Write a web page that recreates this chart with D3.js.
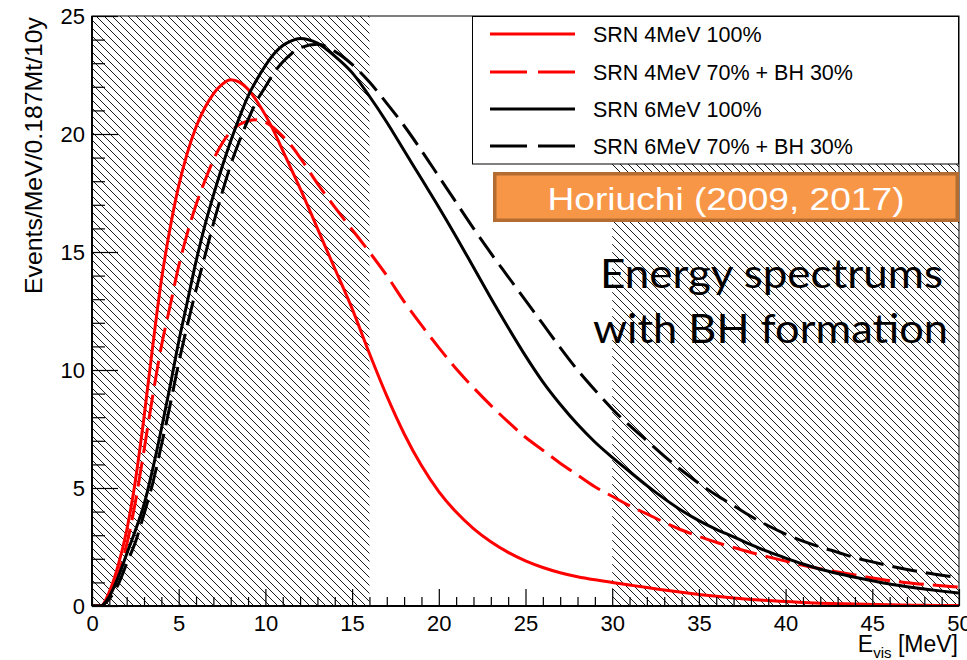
<!DOCTYPE html>
<html>
<head>
<meta charset="utf-8">
<script src="https://cdn.jsdelivr.net/npm/d3@7"></script>
<style>
  html, body { margin: 0; padding: 0; background: #fff; }
  svg { display: block; }
</style>
</head>
<body>
<svg id="chart" width="967" height="660"></svg>
<script>
// ---------------- data ----------------
const energy = [0,0.5,1,1.5,2,2.5,3,3.5,4,4.5,5,5.5,6,6.5,7,7.5,8,8.5,9,9.5,10,10.5,11,11.5,12,
  13,14,15,16,17,18,19,20,21,22,23,24,25,26,27,28,29,30,31,32,33,34,35,36,37,38,39,40,41,42,43,44,45,46,47,48,49,50];

const srn4 = [0,0,0.6,1.7,3.2,5.3,8.0,11.0,13.8,16.0,17.8,19.2,20.3,21.1,21.7,22.1,22.3,22.2,21.9,21.4,20.8,20.1,19.3,18.5,17.7,
  16.0,14.3,12.6,10.7,8.9,7.3,5.95,4.85,3.98,3.28,2.72,2.27,1.91,1.63,1.41,1.24,1.11,1.0,0.89,0.78,0.68,0.58,0.49,0.41,0.34,0.28,0.23,0.19,0.15,0.12,0.1,0.08,0.065,0.05,0.04,0.03,0.025,0.02];

const srn4bh = [0,0,0.4,1.3,2.6,4.4,6.6,8.9,11.0,12.7,14.4,15.8,17.0,18.0,18.9,19.6,20.1,20.4,20.55,20.6,20.5,20.25,19.9,19.5,19.0,
  17.9,16.9,15.95,15.0,14.0,12.9,11.9,10.95,10.05,9.25,8.5,7.8,7.15,6.6,6.05,5.55,5.05,4.65,4.25,3.9,3.55,3.22,2.95,2.7,2.48,2.27,2.08,1.9,1.73,1.58,1.44,1.31,1.19,1.08,0.99,0.92,0.86,0.8];

const srn6 = [0,0,0.4,1.2,2.2,3.2,4.3,5.8,7.5,9.3,11.2,12.9,14.6,16.1,17.4,18.6,19.7,20.7,21.6,22.3,22.9,23.4,23.75,23.95,24.05,
  23.85,23.3,22.6,21.6,20.5,19.3,18.1,16.9,15.65,14.35,13.05,11.8,10.6,9.5,8.55,7.7,6.95,6.3,5.7,5.1,4.55,4.05,3.62,3.25,2.93,2.6,2.3,2.03,1.78,1.56,1.38,1.22,1.07,0.93,0.82,0.72,0.63,0.55];

const srn6bh = [0,0,0.3,0.9,1.8,2.7,3.9,5.2,6.8,8.5,10.3,11.9,13.4,14.8,16.2,17.5,18.7,19.7,20.6,21.4,22.0,22.6,23.05,23.4,23.65,
  23.8,23.5,22.95,22.2,21.3,20.35,19.3,18.2,17.1,16.0,14.95,13.95,12.95,11.95,10.95,10.0,9.15,8.35,7.65,7.0,6.35,5.75,5.2,4.7,4.25,3.8,3.4,3.05,2.75,2.5,2.28,2.05,1.87,1.7,1.55,1.42,1.3,1.2];

const seriesNames = ["SRN 4MeV 100%", "SRN 4MeV 70% + BH 30%", "SRN 6MeV 100%", "SRN 6MeV 70% + BH 30%"];
const seriesColors = ["#ff0000", "#ff0000", "#000000", "#000000"];
const seriesDashed = [false, true, false, true];
const seriesValues = [srn4, srn4bh, srn6, srn6bh];

const xMajorTicks = [0,5,10,15,20,25,30,35,40,45,50];
const yMajorTicks = [0,5,10,15,20,25];
const hatchRanges = [[0,16],[30,50]];

const yTitle = "Events/MeV/0.187Mt/10y";
const badgeText = "Horiuchi (2009, 2017)";
const noteLines = ["Energy spectrums", "with BH formation"];

// ---------------- layout ----------------
const SANS = "'Liberation Sans', Arial, Helvetica, sans-serif";
const L = 92, R = 959, T = 16, B = 606;
const svg = d3.select("#chart");
const x = d3.scaleLinear().domain([0, 50]).range([L, R]);
const y = d3.scaleLinear().domain([0, 25]).range([B, T]);

const defs = svg.append("defs");
const pat = defs.append("pattern").attr("id", "hatch")
  .attr("patternUnits", "userSpaceOnUse").attr("width", 8).attr("height", 8);
pat.append("path").attr("d", "M0,0 L8,8 M-2,6 L2,10 M6,-2 L10,2")
  .attr("stroke", "#000").attr("stroke-width", 0.9).attr("fill", "none");
defs.append("clipPath").attr("id", "plotclip").append("rect")
  .attr("x", L).attr("y", T).attr("width", R - L).attr("height", B - T);

// hatched regions
svg.append("g").selectAll("rect").data(hatchRanges).join("rect")
  .attr("x", d => x(d[0])).attr("y", T)
  .attr("width", d => x(d[1]) - x(d[0])).attr("height", B - T)
  .attr("fill", "url(#hatch)");

// curves
const line = d3.line().x(d => x(d[0])).y(d => y(d[1])).curve(d3.curveMonotoneX);
const gCurves = svg.append("g").attr("clip-path", "url(#plotclip)");
seriesValues.forEach((vals, i) => {
  gCurves.append("path")
    .datum(energy.map((e, k) => [e, vals[k]]))
    .attr("d", line)
    .attr("fill", "none")
    .attr("stroke", seriesColors[i])
    .attr("stroke-width", 3)
    .attr("stroke-dasharray", seriesDashed[i] ? "25 9" : null);
});

// axes
const xMinor = d3.range(0, 51).filter(v => v % 5 !== 0);
const yMinor = d3.range(0, 26).filter(v => v % 5 !== 0);

const gx = svg.append("g").attr("transform", `translate(0,${B})`)
  .call(d3.axisBottom(x).tickValues(xMajorTicks).tickSize(-17).tickPadding(9).tickFormat(d3.format("d")));
svg.append("g").attr("transform", `translate(0,${B})`)
  .call(d3.axisBottom(x).tickValues(xMinor).tickSize(-9).tickFormat(""))
  .call(g => g.select(".domain").remove());
const gy = svg.append("g").attr("transform", `translate(${L},0)`)
  .call(d3.axisLeft(y).tickValues(yMajorTicks).tickSize(-26).tickPadding(7).tickFormat(d3.format("d")));
svg.append("g").attr("transform", `translate(${L},0)`)
  .call(d3.axisLeft(y).tickValues(yMinor).tickSize(-13).tickFormat(""))
  .call(g => g.select(".domain").remove());

svg.selectAll(".tick line").attr("stroke", "#000").attr("stroke-width", 1.2);
svg.selectAll(".domain").attr("stroke", "none");
[gx, gy].forEach(g => g.selectAll("text")
  .attr("font-family", SANS)
  .attr("font-size", 22).attr("fill", "#000"));

// frame
svg.append("rect").attr("x", L).attr("y", T).attr("width", R - L).attr("height", B - T)
  .attr("fill", "none").attr("stroke", "#000").attr("stroke-width", 1);
svg.append("line").attr("x1", L).attr("x2", R).attr("y1", B).attr("y2", B)
  .attr("stroke", "#000").attr("stroke-width", 2);
svg.append("line").attr("x1", L).attr("x2", L).attr("y1", T).attr("y2", B)
  .attr("stroke", "#000").attr("stroke-width", 2);

// axis titles
svg.append("text")
  .attr("transform", `translate(42,17) rotate(-90)`)
  .attr("text-anchor", "end").attr("font-family", SANS).attr("font-size", 24).attr("fill", "#000")
  .attr("textLength", 277).attr("lengthAdjust", "spacingAndGlyphs")
  .text(yTitle);
const xt = svg.append("text").attr("x", 958).attr("y", 652)
  .attr("text-anchor", "end").attr("font-family", SANS).attr("font-size", 23).attr("fill", "#000");
xt.append("tspan").text("E");
xt.append("tspan").attr("font-size", 15).attr("dy", 6).text("vis");
xt.append("tspan").attr("dy", -6).text(" [MeV]");

// legend
const lg = svg.append("g");
lg.append("rect").attr("x", 472.5).attr("y", 16.5).attr("width", 486).attr("height", 147.5)
  .attr("fill", "#fff").attr("stroke", "#000").attr("stroke-width", 1);
const rowY = [34, 72, 109, 146];
seriesNames.forEach((name, i) => {
  lg.append("line").attr("x1", 490).attr("x2", 575).attr("y1", rowY[i]).attr("y2", rowY[i])
    .attr("stroke", seriesColors[i]).attr("stroke-width", 3)
    .attr("stroke-dasharray", seriesDashed[i] ? "37 11" : null);
  lg.append("text").attr("x", 593).attr("y", rowY[i] + 8)
    .attr("font-family", SANS).attr("font-size", 21.5).attr("fill", "#000").text(name);
});

// orange badge
svg.append("rect").attr("x", 494.75).attr("y", 173.75).attr("width", 462.5).attr("height", 46.5)
  .attr("fill", "#f79646").attr("stroke", "#b46c30").attr("stroke-width", 3.5);
svg.append("text").attr("x", 726).attr("y", 210).attr("text-anchor", "middle")
  .attr("font-family", SANS).attr("font-size", 32).attr("fill", "#fff")
  .attr("textLength", 357).attr("lengthAdjust", "spacingAndGlyphs")
  .text(badgeText);

// note text
const noteX = [600, 593], noteY = [288, 343], noteLen = [343, 355];
noteLines.forEach((t, i) => {
  svg.append("text").attr("x", noteX[i]).attr("y", noteY[i])
    .style("font-family", "Lato, 'Open Sans', sans-serif")
    .attr("font-size", 41).attr("fill", "#000")
    .attr("textLength", noteLen[i]).attr("lengthAdjust", "spacingAndGlyphs")
    .text(t);
});
</script>
</body>
</html>
